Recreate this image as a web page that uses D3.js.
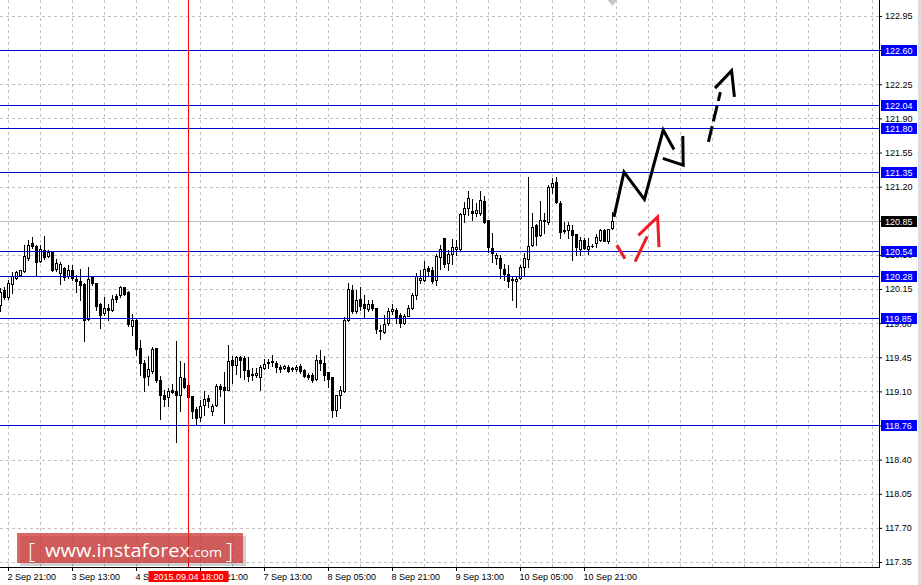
<!DOCTYPE html>
<html><head><meta charset="utf-8">
<script src="https://cdn.jsdelivr.net/npm/d3@7"></script>
<style>body{margin:0;background:#fff;overflow:hidden}svg{display:block}</style>
</head><body>
<svg id="c" width="921" height="585"></svg>
<script>
// H1 bars, first bar = 2 Sep 19:00
const opens = [119.99,120.14,120.07,120.20,120.26,120.29,120.33,120.47,120.62,120.59,120.44,120.55,120.49,120.53,120.36,120.31,120.37,120.28,120.35,120.25,120.23,120.20,119.84,120.27,120.21,120.00,119.90,119.96,119.93,120.08,120.09,120.17,120.12,119.77,119.83,119.54,119.39,119.26,119.31,119.54,119.22,119.06,119.04,119.11,119.10,119.06,119.24,119.17,119.05,118.92,118.84,118.96,119.03,118.90,118.96,119.16,119.14,119.11,119.42,119.37,119.45,119.44,119.32,119.28,119.27,119.25,119.34,119.39,119.41,119.39,119.35,119.34,119.35,119.34,119.33,119.36,119.32,119.27,119.27,119.23,119.42,119.39,119.30,119.25,118.91,119.06,119.10,119.83,120.14,119.92,120.05,120.00,119.94,120.00,119.95,119.73,119.71,119.80,119.92,119.93,119.88,119.80,119.87,119.95,120.09,120.24,120.24,120.37,120.34,120.24,120.48,120.67,120.42,120.51,120.56,120.56,120.92,120.98,120.95,120.93,120.93,121.05,120.86,120.57,120.47,120.47,120.36,120.30,120.25,120.23,120.26,120.38,120.46,120.60,120.81,120.70,120.86,120.84,121.20,121.25,121.03,120.75,120.75,120.76,120.71,120.56,120.65,120.56,120.59,120.62,120.65,120.76,120.64,120.78];
const highs = [120.16,120.17,120.24,120.32,120.33,120.35,120.60,120.65,120.68,120.60,120.60,120.69,120.55,120.53,120.46,120.43,120.38,120.40,120.40,120.29,120.36,120.21,120.38,120.28,120.21,120.01,120.07,120.00,120.09,120.10,120.18,120.17,120.13,119.89,119.84,119.63,119.42,119.46,119.56,119.54,119.26,119.11,119.13,119.18,119.62,119.41,119.39,119.17,119.05,118.94,119.01,119.10,119.06,118.97,119.18,119.18,119.30,119.58,119.46,119.46,119.46,119.46,119.45,119.34,119.34,119.37,119.43,119.43,119.47,119.41,119.37,119.37,119.37,119.35,119.37,119.38,119.33,119.29,119.29,119.47,119.52,119.46,119.30,119.25,119.06,119.15,119.86,120.21,120.19,120.14,120.17,120.09,120.04,120.04,119.96,119.78,119.88,119.95,120.00,119.95,119.90,119.89,119.99,120.11,120.31,120.35,120.44,120.39,120.38,120.51,120.60,120.67,120.55,120.66,120.65,120.93,121.04,121.16,121.07,121.03,121.15,121.10,120.86,120.72,120.52,120.50,120.41,120.40,120.28,120.28,120.40,120.52,121.30,120.93,120.82,121.05,120.93,121.22,121.29,121.30,121.05,120.84,120.84,120.81,120.71,120.68,120.67,120.67,120.61,120.71,120.77,120.77,120.77,120.94];
const lows = [119.92,120.05,120.05,120.11,120.25,120.28,120.32,120.45,120.57,120.29,120.43,120.46,120.48,120.33,120.33,120.20,120.24,120.26,120.24,120.12,120.04,119.62,119.83,120.19,119.93,119.75,119.88,119.83,119.92,120.02,120.07,120.09,119.77,119.68,119.47,119.27,119.10,119.17,119.29,119.20,118.82,118.95,118.95,119.08,118.58,118.90,119.13,119.01,118.83,118.76,118.80,118.86,118.94,118.86,118.95,119.05,118.78,119.11,119.19,119.28,119.25,119.23,119.21,119.22,119.25,119.11,119.33,119.34,119.36,119.30,119.30,119.33,119.30,119.31,119.31,119.29,119.25,119.23,119.20,119.22,119.32,119.22,119.14,118.84,118.85,118.93,119.09,119.82,119.90,119.90,119.93,119.85,119.92,119.93,119.70,119.64,119.70,119.78,119.89,119.80,119.76,119.79,119.87,119.94,120.05,120.21,120.23,120.28,120.21,120.19,120.36,120.38,120.35,120.41,120.50,120.55,120.84,120.91,120.86,120.90,120.91,120.83,120.53,120.43,120.41,120.26,120.24,120.17,120.04,119.97,120.25,120.28,120.38,120.59,120.60,120.69,120.72,120.82,121.13,121.03,120.67,120.72,120.67,120.45,120.50,120.50,120.56,120.51,120.58,120.58,120.64,120.64,120.62,120.77];
const closes = [120.12,120.07,120.21,120.28,120.32,120.35,120.49,120.60,120.59,120.43,120.56,120.48,120.53,120.34,120.42,120.41,120.27,120.34,120.26,120.23,120.19,119.83,120.25,120.21,119.98,119.88,119.95,119.93,120.05,120.05,120.17,120.10,119.79,119.83,119.53,119.39,119.25,119.33,119.53,119.22,119.06,119.02,119.10,119.09,119.06,119.25,119.14,119.04,118.90,118.83,118.95,119.02,119.00,118.95,119.16,119.12,119.11,119.41,119.37,119.45,119.42,119.32,119.26,119.27,119.29,119.35,119.38,119.40,119.40,119.35,119.33,119.36,119.31,119.33,119.35,119.31,119.26,119.25,119.22,119.42,119.39,119.27,119.23,118.91,119.06,119.11,119.83,120.15,119.92,120.04,119.98,119.95,120.00,119.96,119.74,119.72,119.79,119.92,119.94,119.86,119.80,119.87,119.96,120.09,120.28,120.26,120.36,120.33,120.23,120.49,120.56,120.41,120.51,120.58,120.58,120.92,120.98,121.08,120.93,120.96,121.06,120.84,120.58,120.52,120.50,120.37,120.30,120.23,120.24,120.25,120.38,120.47,120.59,120.79,120.69,120.86,120.85,121.20,121.24,121.04,120.73,120.74,120.81,120.70,120.58,120.65,120.57,120.59,120.59,120.68,120.76,120.64,120.77,120.85];

const xTickBars = [2,18,34,50,66,82,98,114,130,146];
const xTickLabels = ["2 Sep 21:00","3 Sep 13:00","4 Sep 05:00","4 Sep 21:00","7 Sep 13:00","8 Sep 05:00","8 Sep 21:00","9 Sep 13:00","10 Sep 05:00","10 Sep 21:00"];
const yTicks = [117.35,117.70,118.05,118.40,118.75,119.10,119.45,119.80,120.15,120.50,120.85,121.20,121.55,121.90,122.25,122.60,122.95];
const levels = [122.60,122.04,121.80,121.35,120.54,120.28,119.85,118.76];
const currentPrice = 120.85;
const vlineBar = 47, vlineLabel = "2015.09.04 18:00";

// hand-drawn forecast arrows: [bar position, price]
const blackPath1 = [[153.5,120.89],[156,121.35],[161.1,121.07],[165.8,121.78],[168.5,121.58]];
const blackPath2 = [[165.7,121.49],[170.8,121.42],[170.7,121.72]];
const blackDashed = [[177.1,121.66],[180.1,122.17]];
const blackHead = [[178.75,122.21],[182.9,122.39],[183.6,122.12]];
const redPath1 = [[154.2,120.60],[156.25,120.46]];
const redPath2 = [[158.75,120.43],[161.8,120.69]];
const redHead = [[159.6,120.70],[164.4,120.89],[164.75,120.58]];

const W = 879, H = 567;
const svg = d3.select("#c");
const x = d3.scaleLinear().domain([0, 219.75]).range([0, W]);
const y = d3.scaleLinear().domain([117.35, 122.95]).range([562, 16]);
const FONT = "'Liberation Sans', Arial, sans-serif";

svg.append("rect").attr("width",921).attr("height",585).attr("fill","#fff");
svg.append("rect").attr("x",918).attr("y",0).attr("width",3).attr("height",585).attr("fill","#dcdcdc");

const plot = svg.append("g");
// grid
const vgrid = d3.range(2, 220, 8);
plot.selectAll("line.vg").data(vgrid).join("line")
  .attr("x1", d => Math.round(x(d)) + 0.5).attr("x2", d => Math.round(x(d)) + 0.5)
  .attr("y1", 0).attr("y2", H)
  .attr("stroke", "#c0c0c0").attr("stroke-dasharray", "3,3");
plot.selectAll("line.hg").data(yTicks).join("line")
  .attr("x1", 0).attr("x2", W)
  .attr("y1", d => Math.round(y(d)) + 0.5).attr("y2", d => Math.round(y(d)) + 0.5)
  .attr("stroke", "#c0c0c0").attr("stroke-dasharray", "3,3");

// current price line
plot.append("line").attr("x1",0).attr("x2",W)
  .attr("y1", Math.round(y(currentPrice))+0.5).attr("y2", Math.round(y(currentPrice))+0.5)
  .attr("stroke","#c0c0c0");

// candles
const idx = d3.range(opens.length);
plot.selectAll("rect.wick").data(idx).join("rect")
  .attr("x", i => Math.round(x(i)))
  .attr("y", i => Math.round(y(highs[i])))
  .attr("width", 1)
  .attr("height", i => Math.round(y(lows[i])) - Math.round(y(highs[i])) + 1)
  .attr("fill", "#000");
plot.selectAll("rect.body").data(idx).join("rect")
  .each(function(i){
    const cx = Math.round(x(i));
    const top = Math.round(y(Math.max(opens[i], closes[i])));
    const bot = Math.round(y(Math.min(opens[i], closes[i])));
    const s = d3.select(this);
    if (closes[i] > opens[i] && bot - top >= 2) {
      s.attr("x", cx - 0.5).attr("y", top + 0.5).attr("width", 2).attr("height", bot - top)
       .attr("fill", "#fff").attr("stroke", "#000").attr("stroke-width", 1);
    } else {
      s.attr("x", cx - 1).attr("y", top).attr("width", 3).attr("height", Math.max(1, bot - top + 1))
       .attr("fill", "#000");
    }
  });

// horizontal levels
plot.selectAll("line.lvl").data(levels).join("line")
  .attr("x1", 0).attr("x2", W)
  .attr("y1", d => Math.round(y(d)) + 0.5).attr("y2", d => Math.round(y(d)) + 0.5)
  .attr("stroke", "#0000d0");

// red vertical line
plot.append("line")
  .attr("x1", Math.round(x(vlineBar)) + 0.5).attr("x2", Math.round(x(vlineBar)) + 0.5)
  .attr("y1", 0).attr("y2", H).attr("stroke", "#ff0000");

// arrows
const line = d3.line().x(d => x(d[0])).y(d => y(d[1]));
const drawPath = (pts, col, dash) => {
  const p = plot.append("path").attr("d", line(pts)).attr("fill","none")
    .attr("stroke", col).attr("stroke-width", 3).attr("stroke-linejoin","miter");
  if (dash) p.attr("stroke-dasharray", dash);
};
drawPath(blackPath1, "#000");
drawPath(blackPath2, "#000");
drawPath(blackDashed, "#000", "16,5");
drawPath(blackHead, "#000");
drawPath(redPath1, "#ee1c24");
drawPath(redPath2, "#ee1c24");
drawPath(redHead, "#ee1c24");

// shift marker
const lx = Math.round(x(opens.length - 1)) + 0.5;
svg.append("path").attr("d", `M${lx-5},0L${lx+5},0L${lx},6Z`).attr("fill", "#c8c8c8");

// axes frame
svg.append("line").attr("x1", W + 0.5).attr("x2", W + 0.5).attr("y1", 0).attr("y2", H + 1).attr("stroke", "#000");
svg.append("line").attr("x1", 0).attr("x2", W + 1).attr("y1", H + 0.5).attr("y2", H + 0.5).attr("stroke", "#000");

// right axis
const ya = svg.append("g").attr("transform", `translate(${W},0)`)
  .call(d3.axisRight(y).tickValues(yTicks).tickSize(3).tickFormat(d3.format(".2f")));
ya.select(".domain").remove();
ya.selectAll("text").attr("font-family", FONT).attr("font-size", 9).attr("fill", "#000");
ya.selectAll("line").attr("stroke", "#000");

// bottom axis
const xa = svg.append("g").attr("transform", `translate(0,${H})`)
  .call(d3.axisBottom(x).tickValues(xTickBars).tickSize(4).tickFormat((d, i) => xTickLabels[i]));
xa.select(".domain").remove();
xa.selectAll("text").attr("font-family", FONT).attr("font-size", 9).attr("fill", "#000")
  .attr("text-anchor", "start").attr("x", -1);
xa.selectAll("line").attr("stroke", "#000");

// level labels
const lab = svg.append("g");
const addLabel = (v, bg) => {
  const yy = Math.round(y(v));
  lab.append("rect").attr("x", W + 2).attr("y", yy - 5).attr("width", 36).attr("height", 11).attr("fill", bg);
  lab.append("text").attr("x", W + 6).attr("y", yy + 0.5).attr("dy", "0.35em")
    .attr("font-family", FONT).attr("font-size", 9).attr("fill", "#fff").text(d3.format(".2f")(v));
};
levels.forEach(v => addLabel(v, "#0000ff"));
addLabel(currentPrice, "#000");

// time label of vertical line
const vx = Math.round(x(vlineBar)) + 0.5;
svg.append("rect").attr("x", vx - 40).attr("y", H + 4).attr("width", 80).attr("height", 11).attr("fill", "#ff0000");
svg.append("text").attr("x", vx).attr("y", H + 9.5).attr("dy", "0.35em").attr("text-anchor", "middle")
  .attr("font-family", FONT).attr("font-size", 9).attr("fill", "#fff").text(vlineLabel);

// watermark
const wm = svg.append("g");
wm.append("rect").attr("x", 20).attr("y", 536).attr("width", 226).attr("height", 30).attr("fill", "rgba(0,0,0,0.18)");
wm.append("rect").attr("x", 17).attr("y", 533).attr("width", 226).attr("height", 30).attr("fill", "rgba(206,51,51,0.75)");
const wt = wm.append("text").attr("y", 557).attr("font-family", "'Open Sans', 'Liberation Sans', sans-serif").attr("fill", "#fff");
wm.append("text").attr("x", 28).attr("y", 559).attr("font-family", "'Open Sans', sans-serif").attr("font-size", 22)
  .attr("font-weight", 300).attr("fill", "#fff").text("[");
wm.append("text").attr("x", 45).attr("y", 557).attr("font-family", "'Open Sans', sans-serif").attr("font-size", 19)
  .attr("fill", "#fff").attr("textLength", 145).attr("lengthAdjust", "spacingAndGlyphs").text("www.instaforex");
wm.append("text").attr("x", 190).attr("y", 557).attr("font-family", "'Open Sans', sans-serif").attr("font-size", 13)
  .attr("fill", "#fff").attr("textLength", 32).attr("lengthAdjust", "spacingAndGlyphs").text(".com");
wm.append("text").attr("x", 226).attr("y", 559).attr("font-family", "'Open Sans', sans-serif").attr("font-size", 22)
  .attr("font-weight", 300).attr("fill", "#fff").text("]");
</script>
</body></html>
